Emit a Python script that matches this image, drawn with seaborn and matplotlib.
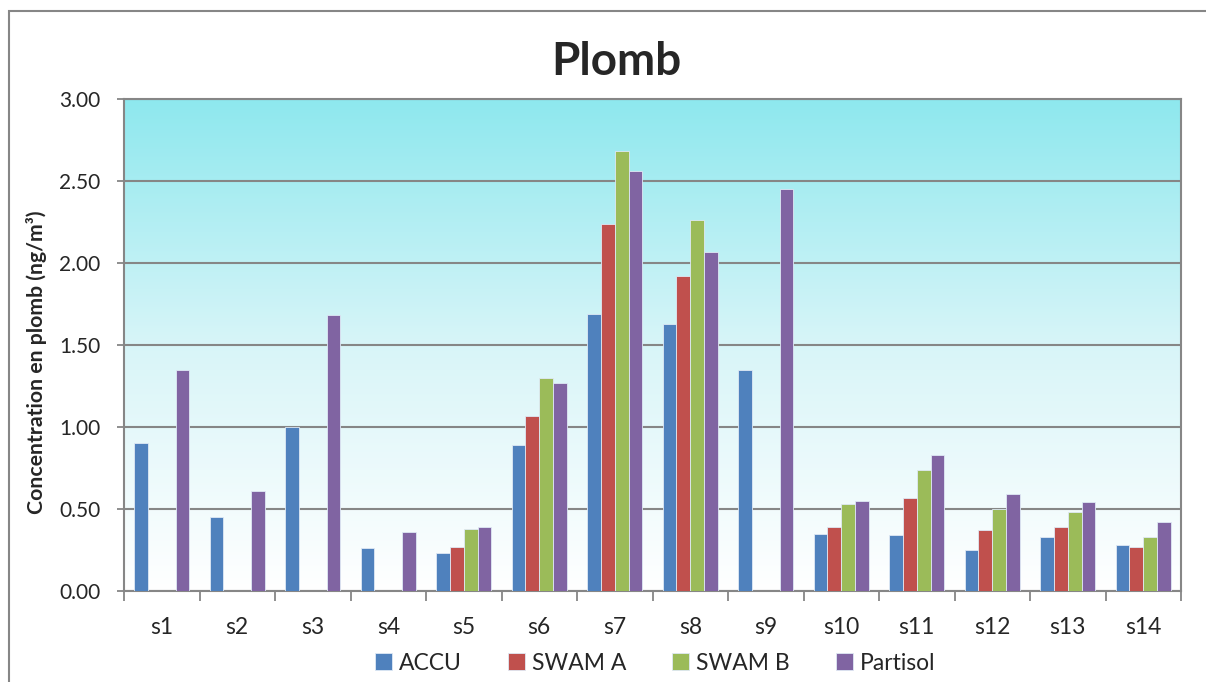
import numpy as np
import pandas as pd
import matplotlib
matplotlib.use("Agg")
import matplotlib.pyplot as plt
from matplotlib.colors import LinearSegmentedColormap
from matplotlib.patches import Rectangle
import seaborn as sns

categories = ["s1", "s2", "s3", "s4", "s5", "s6", "s7", "s8", "s9", "s10", "s11", "s12", "s13", "s14"]
accu = [0.90, 0.45, 1.00, 0.26, 0.23, 0.89, 1.69, 1.63, 1.35, 0.35, 0.34, 0.25, 0.33, 0.28]
swam_a = [np.nan, np.nan, np.nan, np.nan, 0.27, 1.07, 2.24, 1.92, np.nan, 0.39, 0.57, 0.37, 0.39, 0.27]
swam_b = [np.nan, np.nan, np.nan, np.nan, 0.38, 1.30, 2.68, 2.26, np.nan, 0.53, 0.74, 0.50, 0.48, 0.33]
partisol = [1.35, 0.61, 1.68, 0.36, 0.39, 1.27, 2.56, 2.07, 2.45, 0.55, 0.83, 0.59, 0.54, 0.42]
series_names = ["ACCU", "SWAM A", "SWAM B", "Partisol"]
colors = ["#4f81bd", "#c0504d", "#9bbb59", "#8064a2"]

rows = []
for name, vals in zip(series_names, [accu, swam_a, swam_b, partisol]):
    for c, v in zip(categories, vals):
        rows.append({"site": c, "serie": name, "val": v})
df = pd.DataFrame(rows)

sns.set_theme(style="white")
plt.rcParams["font.family"] = ["Lato", "DejaVu Sans"]

fig = plt.figure(figsize=(12.06, 6.82), dpi=100)
ax = fig.add_axes([124/1206, 1-591/682, (1181-124)/1206, (591-99)/682])

# gradient background
cmap = LinearSegmentedColormap.from_list("bg", ["#ffffff", "#d8f5f8", "#8ee8ee"])
grad = np.linspace(0, 1, 256).reshape(-1, 1)
ax.imshow(grad, aspect="auto", cmap=cmap, origin="lower",
          extent=[-0.5, len(categories)-0.5, 0, 3.0], zorder=0)

sns.barplot(data=df, x="site", y="val", hue="serie", hue_order=series_names,
            order=categories, palette=colors, saturation=1, width=0.73, gap=0,
            edgecolor="#dfe9f5", linewidth=0.6, ax=ax, zorder=3, legend=True)

ax.set_xlim(-0.5, len(categories)-0.5)
ax.set_ylim(0, 3.0)
ax.set_yticks(np.arange(0, 3.01, 0.5))
ax.set_yticklabels([f"{v:.2f}" for v in np.arange(0, 3.01, 0.5)], fontsize=15)
ax.yaxis.grid(True, color="#868686", linewidth=1.5, zorder=1)
ax.set_axisbelow(True)
ax.set_xticks(range(len(categories)))
ax.set_xticklabels(categories, fontsize=16.5)
ax.set_xticks(np.arange(-0.5, len(categories), 1), minor=True)
ax.tick_params(axis="x", which="major", length=0, pad=19)
ax.tick_params(axis="x", which="minor", length=7, width=1.3, color="#868686", direction="out")
ax.tick_params(axis="y", which="major", length=5, width=1.3, color="#868686", direction="out", pad=12)
ax.yaxis.set_ticks_position("left")
ax.xaxis.set_ticks_position("bottom")
for s in ax.spines.values():
    s.set_color("#868686")
    s.set_linewidth(1.5)
ax.set_xlabel("")
ax.set_ylabel("Concentration en plomb (ng/m³)", fontsize=15.3, fontweight="bold")
ax.yaxis.set_label_coords((47-124)/1057, 0.465)
fig.text(616/1206, 1-62/682, "Plomb", ha="center", va="center", fontsize=33, fontweight="bold")

handles, labels = ax.get_legend_handles_labels()
ax.legend(handles, labels, loc="center", bbox_to_anchor=(655/1206, 1-663/682),
          bbox_transform=fig.transFigure, ncol=4, frameon=False, fontsize=16.5,
          handlelength=0.75, handleheight=0.75, handletextpad=0.3, columnspacing=2.0)

fig.patches.append(Rectangle((9/1206, -0.1), 1.2, 1.1-11/682, transform=fig.transFigure,
                             fill=False, edgecolor="#868686", linewidth=1.5))

fig.savefig("out.png", dpi=100)
